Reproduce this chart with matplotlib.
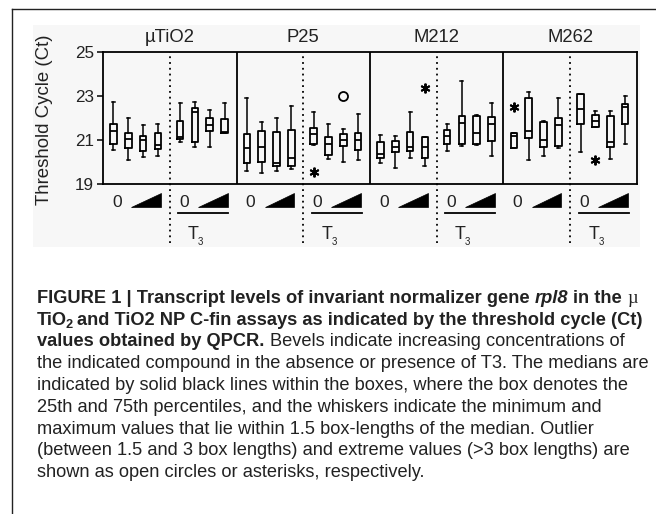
import numpy as np
import matplotlib
matplotlib.use("Agg")
import matplotlib.pyplot as plt
from matplotlib.patches import Polygon, Rectangle
from matplotlib.lines import Line2D
from matplotlib.transforms import IdentityTransform

# ---- data ----
panels = ["µTiO2", "P25", "M212", "M262"]

# 8 boxes per panel: 4 without T3, 4 with T3
whis_hi = [22.74, 21.98, 21.68, 21.71, 22.66, 22.72, 22.35, 22.69,
           22.93, 21.80, 22.01, 22.56, 22.29, 21.71, 21.50, 22.16,
           21.21, 21.18, 22.29, 21.15, 21.74, 23.67, 22.13, 22.69,
           21.30, 23.19, 21.86, 22.93, 23.11, 22.33, 22.32, 22.99]
q3 = [21.74, 21.30, 21.20, 21.30, 21.88, 22.47, 21.98, 21.95,
      21.29, 21.40, 21.35, 21.46, 21.56, 21.15, 21.26, 21.30,
      20.93, 20.96, 21.38, 21.15, 21.47, 22.07, 22.10, 22.03,
      21.30, 22.92, 21.83, 21.98, 23.07, 22.13, 22.10, 22.62]
medians = [21.41, 21.03, 21.00, 20.78, 21.14, 22.26, 21.68, 21.38,
           20.63, 20.66, 19.95, 20.17, 21.26, 20.81, 21.00, 21.00,
           20.37, 20.70, 20.67, 20.66, 21.20, 21.77, 21.33, 21.73,
           21.20, 21.41, 20.99, 21.67, 22.41, 21.86, 20.93, 22.51]
q1 = [20.81, 20.63, 20.51, 20.60, 21.05, 20.93, 21.41, 21.33,
      19.95, 20.02, 19.83, 19.84, 20.84, 20.32, 20.72, 20.54,
      20.17, 20.45, 20.48, 20.17, 20.84, 20.81, 20.81, 20.96,
      20.63, 21.11, 20.70, 20.75, 21.73, 21.61, 20.67, 21.73]
whis_lo = [20.54, 20.08, 20.25, 20.28, 20.90, 20.70, 20.70, 21.33,
           19.60, 19.50, 19.57, 19.68, 20.78, 20.13, 20.02, 20.08,
           19.96, 19.75, 20.17, 19.84, 20.51, 20.75, 20.78, 20.29,
           20.63, 20.08, 20.28, 20.63, 20.45, 21.61, 20.13, 20.84]

# extreme values (asterisks) and outliers (open circles): (box index, value)
extremes = [(12, 19.53), (19, 23.37), (24, 22.48), (29, 20.08)]
outliers = [(14, 23.02)]

yticks = [19, 21, 23, 25]

plt.rcParams["font.family"] = ["Liberation Sans", "DejaVu Sans"]

# ---- layout ----
W, H = 656, 514
fig = plt.figure(figsize=(W / 100, H / 100), dpi=100)
fig.patch.set_facecolor("white")

def px(x0, y0, x1, y1):
    return [x0 / W, 1 - y1 / H, (x1 - x0) / W, (y1 - y0) / H]

fig.patches.append(Rectangle((33 / W, 1 - 247 / H), (640 - 33) / W, (247 - 25) / H,
                             transform=fig.transFigure, facecolor="#f7f7f7",
                             edgecolor="none", zorder=-5))
fig.lines.append(Line2D([12 / W, 12 / W], [0, 1 - 9 / H], transform=fig.transFigure,
                        color="#222222", lw=1.0))
fig.lines.append(Line2D([12 / W, 1], [1 - 9 / H, 1 - 9 / H], transform=fig.transFigure,
                        color="#222222", lw=1.0))

ax = fig.add_axes(px(103, 52, 637, 184))
ax.set_facecolor("none")

def box_x(i):
    p, j = divmod(i, 8)
    return 9 * p + (0.7 + j if j < 4 else 5.2 + (j - 4))

positions = [box_x(i) for i in range(len(medians))]
stats = []
for i in range(len(medians)):
    stats.append(dict(med=medians[i], q1=q1[i], q3=q3[i],
                      whislo=whis_lo[i], whishi=whis_hi[i], fliers=[]))

ax.bxp(stats, positions=positions, widths=0.45, capwidths=0.2, showfliers=False,
       boxprops=dict(color="black", lw=1.3),
       medianprops=dict(color="black", lw=1.3),
       whiskerprops=dict(color="black", lw=1.1),
       capprops=dict(color="black", lw=1.1))

ax.plot([box_x(i) for i, v in extremes], [v for i, v in extremes], ls="none",
        marker=(6, 2, 0), ms=7, mew=1.4, color="black", clip_on=False)
ax.plot([box_x(i) for i, v in outliers], [v for i, v in outliers], ls="none",
        marker="o", ms=6.5, mfc="none", mec="black", mew=1.3)

ax.set_xlim(0, 36)
ax.set_ylim(19, 25)
ax.set_yticks(yticks)
ax.set_yticklabels([str(t) for t in yticks], fontsize=12.3, color="#222222")
ax.tick_params(axis="y", direction="out", length=4.5, width=1.1, pad=2)
ax.set_xticks([])
for s in ax.spines.values():
    s.set_linewidth(1.3)

trans = ax.get_xaxis_transform()
for p in range(4):
    base = 9 * p
    if p > 0:
        ax.axvline(base, color="black", lw=1.3)
    ax.plot([base + 4.5, base + 4.5], [-0.45, 1], transform=trans, color="black",
            lw=1.3, ls=(0, (1, 2.2)), clip_on=False)
    ax.text(base + 4.5, 1.11, panels[p], transform=trans, ha="center", va="center",
            fontsize=13.3, color="#222222")
    for h in range(2):
        hb = base + 4.5 * h
        ax.text(hb + 0.94, -0.14, "0", transform=trans, ha="center", va="center",
                fontsize=12.5, color="#222222")
        ax.add_patch(Polygon([[hb + 1.89, -0.175], [hb + 3.91, -0.175], [hb + 3.91, -0.07]],
                             closed=True, transform=trans, facecolor="black",
                             edgecolor="black", lw=0.5, clip_on=False))
        if h == 1:
            ax.plot([hb + 0.56, hb + 3.93], [-0.22, -0.22], transform=trans,
                    color="black", lw=1.3, clip_on=False)
            ax.text(hb + 1.6, -0.385, "T", transform=trans, ha="center",
                    va="center", fontsize=13, color="#222222")
            ax.text(hb + 2.08, -0.44, "3", transform=trans, ha="center",
                    va="center", fontsize=7, color="#222222")

fig.text(45 / W, 1 - 120 / H, "Threshold Cycle (Ct)", rotation=90, ha="center",
         va="center", fontsize=13.4, color="#222222")

# ---- caption ----
renderer = fig.canvas.get_renderer()

def width_of(s, **kw):
    t = fig.text(0, 0, s, transform=IdentityTransform(), **kw)
    w = t.get_window_extent(renderer).width
    t.remove()
    return w

# fit the caption size so the widest plain line spans the same width as in the reference
ref_line = "the indicated compound in the absence or presence of T3. The medians are"
cap_size = 10.0 * (651 - 37) / width_of(ref_line, fontsize=10.0)

def put_line(y, segs, x0=37):
    x = x0
    for s, kw in segs:
        kw = dict(kw)
        dy = kw.pop("dy", 0)
        x += kw.pop("dx", 0)
        kw.setdefault("fontsize", cap_size)
        lead = len(s) - len(s.lstrip(" "))
        if lead:
            x += width_of("xx" + " " * lead, **kw) - width_of("xx", **kw)
        body = s.strip(" ")
        t = fig.text(x, H - y - dy, body, transform=IdentityTransform(),
                     va="baseline", ha="left", color="#222222", **kw)
        x += t.get_window_extent(renderer).width
        trail = len(s) - len(s.rstrip(" "))
        if trail:
            x += width_of("xx" + " " * trail, **kw) - width_of("xx", **kw)

B = dict(weight="bold")
N = dict()
base_y = 303
step = 21.75
put_line(base_y, [("FIGURE 1 | Transcript levels of invariant normalizer gene ", B),
                  ("rpl8", dict(weight="bold", style="italic")),
                  (" in the ", B),
                  ("µ", dict(family=["Liberation Serif", "DejaVu Serif"]))])
put_line(base_y + step, [("TiO", B),
                         ("2", dict(weight="bold", fontsize=cap_size * 0.7, dy=3, dx=-2)),
                         (" and TiO2 NP C-fin assays as indicated by the threshold cycle (Ct)", B)])
put_line(base_y + 2 * step, [("values obtained by QPCR.", B),
                             (" Bevels indicate increasing concentrations of", N)])
rest = [ref_line,
        "indicated by solid black lines within the boxes, where the box denotes the",
        "25th and 75th percentiles, and the whiskers indicate the minimum and",
        "maximum values that lie within 1.5 box-lengths of the median. Outlier",
        "(between 1.5 and 3 box lengths) and extreme values (>3 box lengths) are",
        "shown as open circles or asterisks, respectively."]
for k, line in enumerate(rest):
    put_line(base_y + (3 + k) * step, [(line, N)])

fig.savefig("out.png", dpi=100)
